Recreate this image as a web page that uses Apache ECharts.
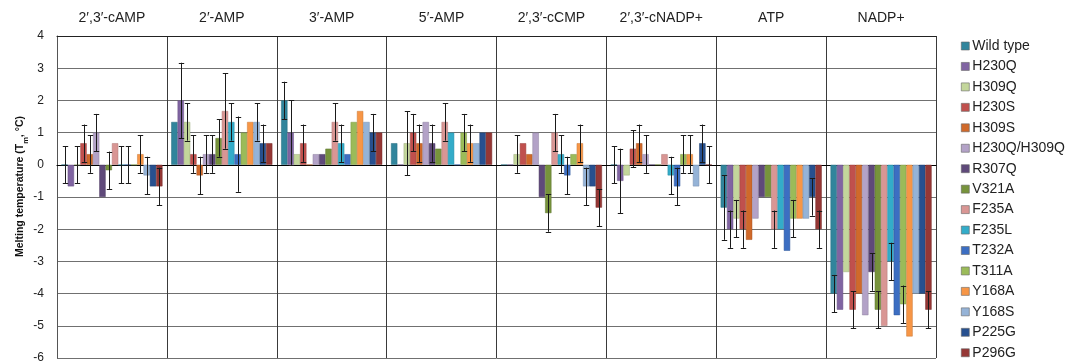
<!DOCTYPE html>
<html><head><meta charset="utf-8">
<script src="https://cdn.jsdelivr.net/npm/echarts@6/dist/echarts.min.js"></script>
<style>html,body{margin:0;padding:0;background:#fff}#c{width:1077px;height:364px}</style>
</head><body><div id="c"></div>
<script>
const categories = ["2\u2032,3\u2032-cAMP","2\u2032-AMP","3\u2032-AMP","5\u2032-AMP","2\u2032,3\u2032-cCMP","2\u2032,3\u2032-cNADP+","ATP","NADP+"];
const seriesNames = ["Wild type","H230Q","H309Q","H230S","H309S","H230Q/H309Q","R307Q","V321A","F235A","F235L","T232A","T311A","Y168A","Y168S","P225G","P296G"];
const colors = ["#31859C","#8064A2","#C3D69B","#C0504D","#D0692A","#B3A2C7","#5F497A","#77933C","#D99694","#33ACC9","#3C6EC2","#9BBB59","#F79646","#95B3D7","#27508F","#953735"];
// values per series (one entry per category)
const wildType   = [0, 1.33, 2.0, 0.67, 0, 0, -1.33, -4.0];
const h230q      = [-0.67, 2.0, 1.0, 0, 0, -0.5, -2.0, -4.5];
const h309q      = [0, 1.33, 0.33, 0.67, 0.33, -0.33, -1.67, -3.33];
const h230s      = [0.67, 0.33, 0.67, 1.0, 0.67, 0.5, -2.0, -4.5];
const h309s      = [0.33, -0.33, 0, 0.67, 0.33, 0.67, -2.33, -4.0];
const h230qh309q = [1.0, 0.33, 0.33, 1.33, 1.0, 0.33, -1.67, -4.67];
const r307q      = [-1.0, 0.33, 0.33, 0.67, -1.0, 0, -1.0, -3.33];
const v321a      = [-0.17, 0.83, 0.5, 0.5, -1.5, 0, -1.0, -4.5];
const f235a      = [0.67, 1.67, 1.33, 1.33, 1.0, 0.33, -2.0, -5.0];
const f235l      = [0, 1.33, 0.67, 1.0, 0.33, -0.33, -2.0, -3.0];
const t232a      = [0, 0.33, 0.33, 0, -0.33, -0.67, -2.67, -4.67];
const t311a      = [0, 1.0, 1.33, 1.0, 0.33, 0.33, -1.67, -4.33];
const y168a      = [0.33, 1.33, 1.67, 0.67, 0.67, 0.33, -1.67, -5.33];
const y168s      = [-0.33, 1.33, 1.33, 0.67, -0.67, -0.67, -1.67, -4.0];
const p225g      = [-0.67, 0.67, 1.0, 1.0, -0.67, 0.67, -1.0, -4.0];
const p296g      = [-0.67, 0.67, 1.0, 1.0, -1.33, 0, -2.0, -4.5];
const values = [wildType,h230q,h309q,h230s,h309s,h230qh309q,r307q,v321a,f235a,f235l,t232a,t311a,y168a,y168s,p225g,p296g];
// error (± SD) per series, null = no error bar drawn
const errWildType   = [0.58, null, 0.58, null, null, 0.58, 1.0, 0.58];
const errH230q      = [null, 1.17, 1.0, null, null, 1.0, 0.58, null];
const errH309q      = [0.58, 0.58, null, 1.0, 0.58, null, 0.58, null];
const errH230s      = [0.58, 0.58, 0.58, 0.58, null, 0.58, 0.58, 0.58];
const errH309s      = [0.58, 0.58, null, 0.58, null, 0.58, null, null];
const errH230qh309q = [0.58, 0.58, null, null, null, 0.58, null, null];
const errR307q      = [null, 0.58, null, 0.58, null, null, null, 0.58];
const errV321a      = [0.58, 0.58, null, null, 0.58, null, null, 0.58];
const errF235a      = [null, 1.17, 0.58, 0.58, 0.58, null, 0.58, null];
const errF235l      = [0.58, 0.58, 0.58, null, 0.58, 0.58, null, 0.58];
const errT232a      = [0.58, 1.17, null, null, 0.58, 0.58, null, null];
const errT311a      = [null, null, null, 0.58, null, 0.58, 0.58, 0.58];
const errY168a      = [0.58, null, null, 0.58, 0.58, 0.58, null, null];
const errY168s      = [0.58, 0.58, null, null, 0.58, null, null, null];
const errP225g      = [null, 0.58, 0.58, null, null, 0.58, 0.58, null];
const errP296g      = [0.58, null, null, null, 0.58, 0.58, 0.58, 0.58];
const errors = [errWildType,errH230q,errH309q,errH230s,errH309s,errH230qh309q,errR307q,errV321a,errF235a,errF235l,errT232a,errT311a,errY168a,errY168s,errP225g,errP296g];
const yTicks = {min: -6, max: 4, interval: 1};

const CAT_GAP = 0.08;
function darker(hex, f){
  const n = parseInt(hex.slice(1),16);
  const r = Math.round(((n>>16)&255)*f), g = Math.round(((n>>8)&255)*f), b = Math.round((n&255)*f);
  return 'rgb('+r+','+g+','+b+')';
}
const barSeries = seriesNames.map((name,i)=>({
  name, type:'bar', data: values[i], barGap:'0%', barCategoryGap:(CAT_GAP*100)+'%',
  itemStyle:{color:colors[i], borderColor:darker(colors[i],0.8), borderWidth:0.5},
  emphasis:{disabled:true}, animation:false
}));
const errData = [];
for (let s=0;s<errors.length;s++) for (let c=0;c<categories.length;c++){
  if (errors[s][c] != null) errData.push([c, s, values[s][c], errors[s][c]]);
}
const errSeries = {
  type:'custom', name:'err', data: errData, z: 5, silent:true, animation:false,
  encode:{x:0, y:2},
  renderItem(params, api){
    const c = api.value(0), si = api.value(1), v = api.value(2), e = api.value(3);
    const band = api.size([1,0])[0];
    const total = band*(1-CAT_GAP), bw = total/seriesNames.length;
    const p = api.coord([c, v]);
    const x = Math.round(p[0] - total/2 + (si+0.5)*bw) + 0.5;
    const yt = api.coord([c, v+e])[1], yb = api.coord([c, v-e])[1];
    const st = {stroke:'#1a1a1a', lineWidth:1};
    const h = 2.7;
    return {type:'group', children:[
      {type:'line', shape:{x1:x,y1:yt,x2:x,y2:yb}, style:st},
      {type:'line', shape:{x1:x-h,y1:Math.round(yt)+0.5,x2:x+h,y2:Math.round(yt)+0.5}, style:st},
      {type:'line', shape:{x1:x-h,y1:Math.round(yb)+0.5,x2:x+h,y2:Math.round(yb)+0.5}, style:st}
    ]};
  }
};

const chart = echarts.init(document.getElementById('c'), null, {renderer:'canvas'});
chart.setOption({
  animation:false,
  textStyle:{fontFamily:'Liberation Sans, Arial, sans-serif'},
  grid:{left:57, right:141, top:36, bottom:5, containLabel:false},
  legend:{
    orient:'vertical', left:961, top:39, padding:0, itemWidth:8, itemHeight:8, itemGap:6.45,
    icon:'rect', data: seriesNames,
    textStyle:{fontSize:14, color:'#222', lineHeight:14, padding:[0,0,0,-2]},
    itemStyle:{borderWidth:0.6, borderColor:'#666'}
  },
  xAxis:[{
    type:'category', data:categories, position:'top',
    axisLine:{show:true, onZero:false, lineStyle:{color:'#222', width:1}},
    axisTick:{show:false},
    axisLabel:{margin:11, fontSize:14, color:'#222', interval:0},
    splitLine:{show:true, lineStyle:{color:'#3a3a3a', width:1}}
  },{
    type:'category', data:categories, position:'bottom',
    axisLine:{show:true, onZero:true, lineStyle:{color:'#000', width:1.2}},
    axisTick:{show:false}, axisLabel:{show:false}, splitLine:{show:false}
  }],
  yAxis:{
    type:'value', min:yTicks.min, max:yTicks.max, interval:yTicks.interval,
    axisLine:{show:true, lineStyle:{color:'#555'}}, axisTick:{show:false},
    axisLabel:{fontSize:12, color:'#222', margin:13},
    splitLine:{show:true, lineStyle:{color:'#707070', width:1}},
    name:'{a|Melting temperature (T}{s|m}{a|, \u00B0C)}', nameLocation:'middle', nameGap:31, nameRotate:90,
    nameMoveOverlap:false,
    nameTextStyle:{padding:[0,0,0,21], rich:{a:{fontSize:10.5, fontWeight:'bold', color:'#111'}, s:{fontSize:7.5, fontWeight:'bold', color:'#111', verticalAlign:'bottom', padding:[0,0,-4,0]}}}
  },
  series:[...barSeries, errSeries]
});
</script></body></html>
